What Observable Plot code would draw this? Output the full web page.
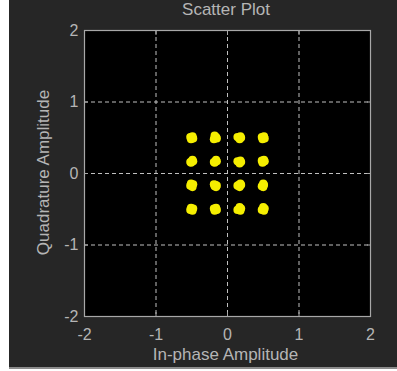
<!DOCTYPE html>
<html>
<head>
<meta charset="utf-8">
<script src="https://cdn.jsdelivr.net/npm/d3@7"></script>
<script src="https://cdn.jsdelivr.net/npm/@observablehq/plot@0.6"></script>
<style>
  html, body { margin: 0; padding: 0; background: #ffffff; }
  #fig { position: absolute; left: 9px; top: 0; width: 388px; height: 367px; background: #262626; border-bottom: 2px solid #8c8c8c; overflow: hidden; }
  #title { position: absolute; left: 0; top: 0; width: 434px; text-align: center; font: 17px "Liberation Sans", Arial, sans-serif; color: #b5b5b5; line-height: 20px; z-index: 2; }
  #chart { position: absolute; left: 0; top: 0; }
</style>
</head>
<body>
<div id="fig"><div id="title">Scatter Plot</div><div id="chart"></div></div>
<script>
// Received 16-QAM samples
const inPhase = [
  -0.50,-0.52,-0.48,-0.51,-0.49,  -0.17,-0.18,-0.15,-0.19,-0.16,   0.16,0.18,0.14,0.17,0.19,   0.50,0.52,0.48,0.49,0.51,
  -0.50,-0.52,-0.49,-0.51,-0.48,  -0.17,-0.19,-0.16,-0.15,-0.18,   0.16,0.18,0.14,0.17,0.19,   0.50,0.51,0.49,0.52,0.48,
  -0.50,-0.52,-0.48,-0.49,-0.51,  -0.17,-0.19,-0.15,-0.16,-0.18,   0.16,0.18,0.14,0.17,0.19,   0.49,0.50,0.48,0.51,0.50,
  -0.50,-0.52,-0.48,-0.51,-0.49,  -0.17,-0.19,-0.15,-0.16,-0.18,   0.16,0.14,0.19,0.17,0.18,   0.50,0.52,0.48,0.50,0.51
];
const quadrature = [
   0.50,0.51,0.49,0.48,0.52,   0.50,0.53,0.49,0.48,0.51,   0.50,0.52,0.51,0.48,0.50,   0.50,0.49,0.51,0.48,0.52,
   0.17,0.16,0.19,0.15,0.17,   0.17,0.16,0.19,0.17,0.15,   0.16,0.18,0.17,0.14,0.16,   0.17,0.19,0.15,0.17,0.18,
  -0.16,-0.17,-0.15,-0.19,-0.14,  -0.16,-0.15,-0.17,-0.19,-0.18,  -0.16,-0.14,-0.17,-0.19,-0.16,  -0.17,-0.14,-0.18,-0.16,-0.19,
  -0.50,-0.51,-0.49,-0.48,-0.52,  -0.50,-0.49,-0.51,-0.48,-0.52,  -0.50,-0.51,-0.49,-0.47,-0.52,  -0.50,-0.49,-0.51,-0.47,-0.52
];
const axisTicks = [-2, -1, 0, 1, 2];
const gridTicks = [-1, 0, 1];
const xLabel = "In-phase Amplitude";
const yLabel = "Quadrature Amplitude";

const samples = inPhase.map((v, i) => ({I: v, Q: quadrature[i]}));
const txt = "#b5b5b5";
const fmt = d => String(d);

const chart = Plot.plot({
  width: 388,
  height: 367,
  marginLeft: 75,
  marginRight: 27,
  marginTop: 30,
  marginBottom: 51,
  style: {background: "#262626", color: txt, fontFamily: "'Liberation Sans', Arial, sans-serif", overflow: "visible"},
  x: {domain: [-2, 2], label: null},
  y: {domain: [-2, 2], label: null},
  marks: [
    Plot.frame({fill: "black", stroke: null}),
    Plot.gridX(gridTicks, {stroke: "#c0c0c0", strokeOpacity: 1, strokeDasharray: "4,3"}),
    Plot.gridY(gridTicks, {stroke: "#c0c0c0", strokeOpacity: 1, strokeDasharray: "4,3"}),
    Plot.dot(samples, {x: "I", y: "Q", r: 4.1, fill: "#f5ee00", stroke: null}),
    Plot.axisX(axisTicks, {anchor: "bottom", tickSize: 0, tickPadding: 12, tickFormat: fmt, fontSize: 16, fill: txt, label: null}),
    Plot.axisY(axisTicks, {anchor: "left", tickSize: 0, tickPadding: 6, tickFormat: fmt, fontSize: 16, fill: txt, label: null}),
    Plot.axisX(gridTicks, {anchor: "bottom", tickSize: -4, text: null, stroke: "#a8a8a8", label: null}),
    Plot.axisX(gridTicks, {anchor: "top", tickSize: -4, text: null, stroke: "#a8a8a8", label: null}),
    Plot.axisY(gridTicks, {anchor: "left", tickSize: -4, text: null, stroke: "#a8a8a8", label: null}),
    Plot.axisY(gridTicks, {anchor: "right", tickSize: -4, text: null, stroke: "#a8a8a8", label: null}),
    Plot.frame({stroke: "#a8a8a8", strokeWidth: 1.2})
  ]
});
document.getElementById("chart").appendChild(chart);

const svg = d3.select(chart);
// axis titles as SVG text
svg.append("text")
  .attr("x", 216.5).attr("y", 360)
  .attr("text-anchor", "middle")
  .attr("fill", txt).attr("font-size", 17)
  .text(xLabel);
svg.append("text")
  .attr("transform", "translate(39.5,172.5) rotate(-90)")
  .attr("text-anchor", "middle")
  .attr("fill", txt).attr("font-size", 17)
  .text(yLabel);
</script>
</body>
</html>
